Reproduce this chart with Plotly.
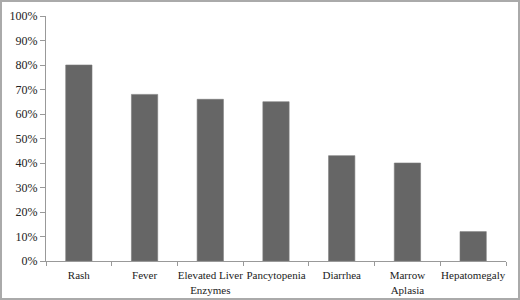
import plotly.graph_objects as go

categories = ["Rash", "Fever", "Elevated Liver<br>Enzymes", "Pancytopenia", "Diarrhea", "Marrow<br>Aplasia", "Hepatomegaly"]
values = [0.80, 0.68, 0.66, 0.65, 0.43, 0.40, 0.12]
y_ticks = [0, 0.1, 0.2, 0.3, 0.4, 0.5, 0.6, 0.7, 0.8, 0.9, 1.0]

W, H = 520, 300
ml, mr, mt, mb = 46, 14, 16, 39
pw, ph = W - ml - mr, H - mt - mb

fig = go.Figure(go.Bar(
    x=categories, y=values,
    marker=dict(color="#666666", line=dict(color="#7a7a7a", width=0.6)),
    width=0.4,
))

fig.update_layout(
    width=W, height=H,
    margin=dict(l=ml, r=mr, t=mt, b=mb),
    paper_bgcolor="white", plot_bgcolor="white",
    font=dict(family="Liberation Serif, DejaVu Serif, serif", size=12, color="#222222"),
    showlegend=False,
    xaxis=dict(
        showline=True, linecolor="#999999", linewidth=1,
        ticks="outside", ticklen=4, tickcolor="#999999",
        tickson="boundaries", showgrid=False,
        tickangle=0, automargin=False, ticklabelstandoff=4,
        tickfont=dict(size=11),
    ),
    yaxis=dict(
        range=[0, 1.0], tickvals=y_ticks, tickformat=".0%",
        showline=True, linecolor="#999999", linewidth=1,
        ticks="outside", ticklen=5, tickcolor="#999999",
        showgrid=False, zeroline=False, automargin=False,
        tickfont=dict(size=12),
    ),
    shapes=[dict(
        type="rect", xref="paper", yref="paper",
        x0=-(ml - 1) / pw, x1=1 + (mr - 1) / pw,
        y0=-(mb - 1) / ph, y1=1 + (mt - 1) / ph,
        line=dict(color="#aaaaaa", width=2),
    )],
)

fig.write_html("out.html", config={"displayModeBar": False},
               post_script="document.body.style.margin='0';document.body.style.padding='0';")
